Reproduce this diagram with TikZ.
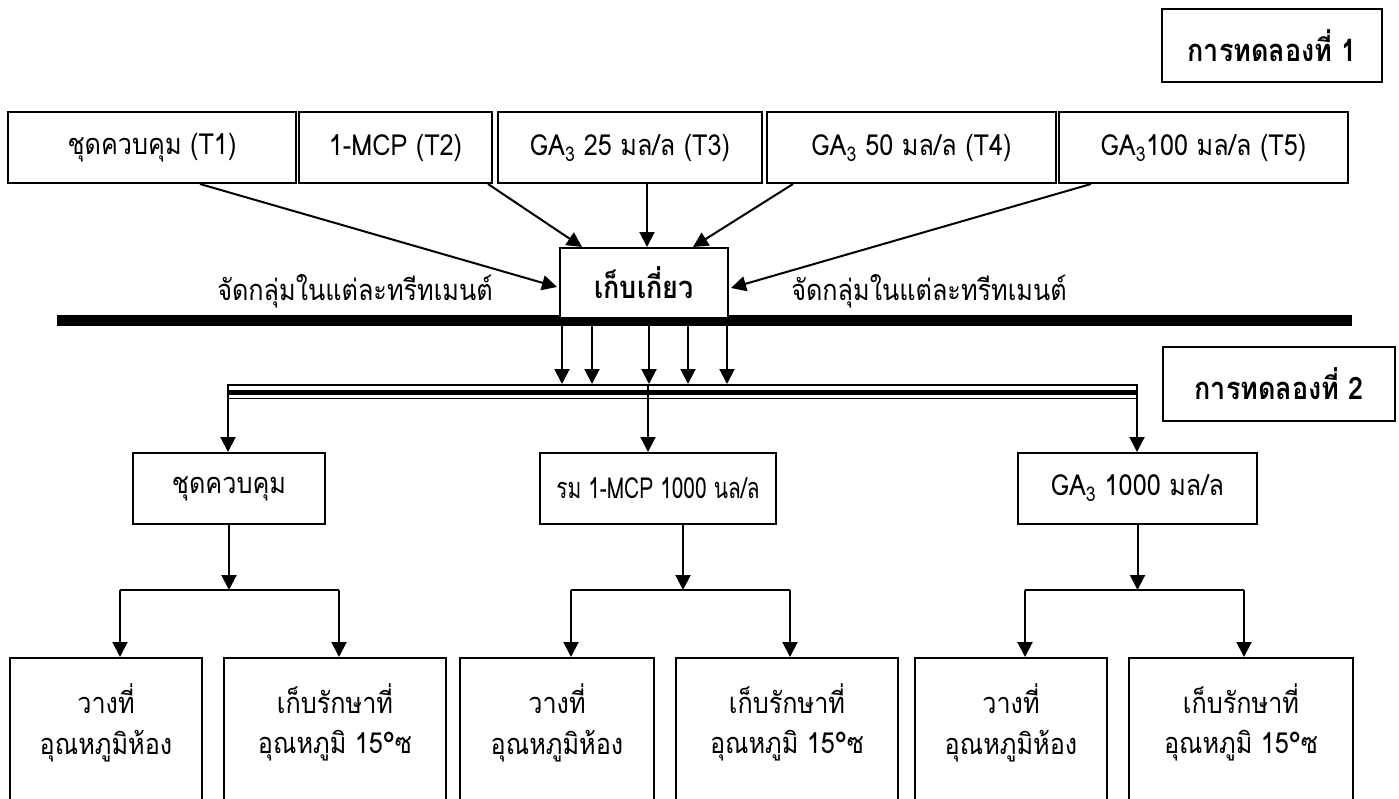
\documentclass[tikz,border=0pt]{standalone}
\usepackage{fontspec}
\setmainfont{Loma}[Script=Thai, FakeStretch=0.87]
\usetikzlibrary{arrows.meta,calc}
\begin{document}
\begin{tikzpicture}[x=1pt,y=-1pt,
  box/.style={draw, line width=2pt, inner sep=0pt, fill=white, font=\fontsize{29}{34}\selectfont},
  bbox/.style={draw, line width=2pt, inner sep=0pt, anchor=north, minimum height=190pt},
  txt/.style={inner sep=0pt, font=\fontsize{29}{34}\selectfont},
  bold/.style={font=\bfseries\fontsize{31}{36}\selectfont},
  narrow/.style={font=\fontsize{29}{34}\selectfont\addfontfeature{FakeStretch=0.72}},
  arr/.style={line width=2pt, -{Triangle[width=15pt,length=15pt]}},
  ln/.style={line width=2pt}]
\useasboundingbox (0,0) rectangle (1399,798);
\clip (0,0) rectangle (1399,798);

% experiment labels
\node[box, bold, minimum width=220pt, minimum height=73pt] (e1) at (1272,45.5) {การทดลองที่ 1};
\node[box, bold, minimum width=232pt, minimum height=74pt] (e2) at (1279,384) {การทดลองที่ 2};

% top row
\node[box, minimum width=288pt, minimum height=71pt] (t1) at (152,147.5) {ชุดควบคุม (T1)};
\node[box, minimum width=193pt, minimum height=71pt] (t2) at (395.5,147.5) {1-MCP (T2)};
\node[box, minimum width=264pt, minimum height=71pt] (t3) at (630,147.5) {GA\textsubscript{3} 25 มล/ล (T3)};
\node[box, minimum width=289pt, minimum height=71pt] (t4) at (911.5,147.5) {GA\textsubscript{3} 50 มล/ล (T4)};
\node[box, minimum width=289pt, minimum height=71pt] (t5) at (1203.5,147.5) {GA\textsubscript{3}100 มล/ล (T5)};

% thick separator
\coordinate (hl) at (57,320.5);
\coordinate (hr) at (1352,320.5);
\draw[line width=11pt] (hl) -- (hr);

% harvest box
\node[box, bold, minimum width=168pt, minimum height=70pt] (c) at (644,283) {เก็บเกี่ยว};

\node[txt] (l1) at (355,291) {จัดกลุ่มในแต่ละทรีทเมนต์};
\node[txt] (l2) at (929,291) {จัดกลุ่มในแต่ละทรีทเมนต์};

% arrows into harvest box
\draw[arr] ([xshift=48pt]t1.south) -- ([yshift=-4pt,xshift=-2pt]c.west);
\draw[arr] ([xshift=92.5pt]t2.south) -- ([xshift=-62pt]c.north);
\draw[arr] ([xshift=17pt]t3.south) -- ([xshift=3pt]c.north);
\draw[arr] ([xshift=-118.5pt]t4.south) -- ([xshift=49pt]c.north);
\draw[arr] ([xshift=-112.5pt]t5.south) -- ([yshift=-5pt,xshift=2pt]c.east);

% triple line
\coordinate (tl) at (228,384);
\coordinate (tm) at (648,384);
\coordinate (tr) at (1137,384);
\draw[line width=1.5pt] (228,385) -- (1137,385);
\draw[line width=5pt] (228,392) -- (1137,392);
\draw[line width=1.5pt] (228,398.5) -- (1137,398.5);

% arrows from harvest box down to triple line
\foreach \dx [count=\i] in {-82,-52,5,44,83}{
  \coordinate (d\i) at ([xshift=\dx pt]c.south);
  \draw[arr] (d\i) -- (d\i |- tl);
}

% second level
\node[box, minimum width=192pt, minimum height=71pt] (s1) at (229,488.5) {ชุดควบคุม};
\node[box, narrow, minimum width=236pt, minimum height=71pt] (s2) at (658,488.5) {รม 1-MCP 1000 นล/ล};
\node[box, minimum width=239pt, minimum height=71pt] (s3) at (1137.5,488.5) {GA\textsubscript{3} 1000 มล/ล};

\draw[arr] (tl) -- (tl |- s1.north);
\draw[arr] (tm) -- (tm |- s2.north);
\draw[arr] (tr) -- (tr |- s3.north);

% bottom boxes
\node[bbox, minimum width=192pt] (b1) at (106,657) {};
\node[bbox, minimum width=222pt] (b2) at (335,657) {};
\node[bbox, minimum width=194pt] (b3) at (557,657) {};
\node[bbox, minimum width=222pt] (b4) at (787,657) {};
\node[bbox, minimum width=192pt] (b5) at (1011,657) {};
\node[bbox, minimum width=224pt] (b6) at (1241,657) {};

\foreach \b in {b1,b3,b5}{
  \node[txt] at ($(\b.north)+(0,42)$) {วางที่};
  \node[txt] at ($(\b.north)+(0,89)$) {อุณหภูมิห้อง};
}
\foreach \b in {b2,b4,b6}{
  \node[txt] at ($(\b.north)+(0,42)$) {เก็บรักษาที่};
  \node[txt] at ($(\b.north)+(0,89)$) {อุณหภูมิ 15°ซ};
}

% branches
\coordinate (p1) at (s1.south);
\coordinate (p2) at ([xshift=25pt]s2.south);
\coordinate (p3) at (s3.south);
\coordinate (j1l) at (120,590); \coordinate (j1r) at (339,590);
\coordinate (j2l) at (571,590); \coordinate (j2r) at (790,590);
\coordinate (j3l) at (1025,590); \coordinate (j3r) at (1244,590);
\foreach \k in {1,2,3}{
  \draw[arr] (p\k) -- (p\k |- j\k l);
  \draw[ln] (j\k l) -- (j\k r);
}
\draw[arr] (j1l) -- (j1l |- b1.north);
\draw[arr] (j1r) -- (j1r |- b2.north);
\draw[arr] (j2l) -- (j2l |- b3.north);
\draw[arr] (j2r) -- (j2r |- b4.north);
\draw[arr] (j3l) -- (j3l |- b5.north);
\draw[arr] (j3r) -- (j3r |- b6.north);
\end{tikzpicture}
\end{document}
